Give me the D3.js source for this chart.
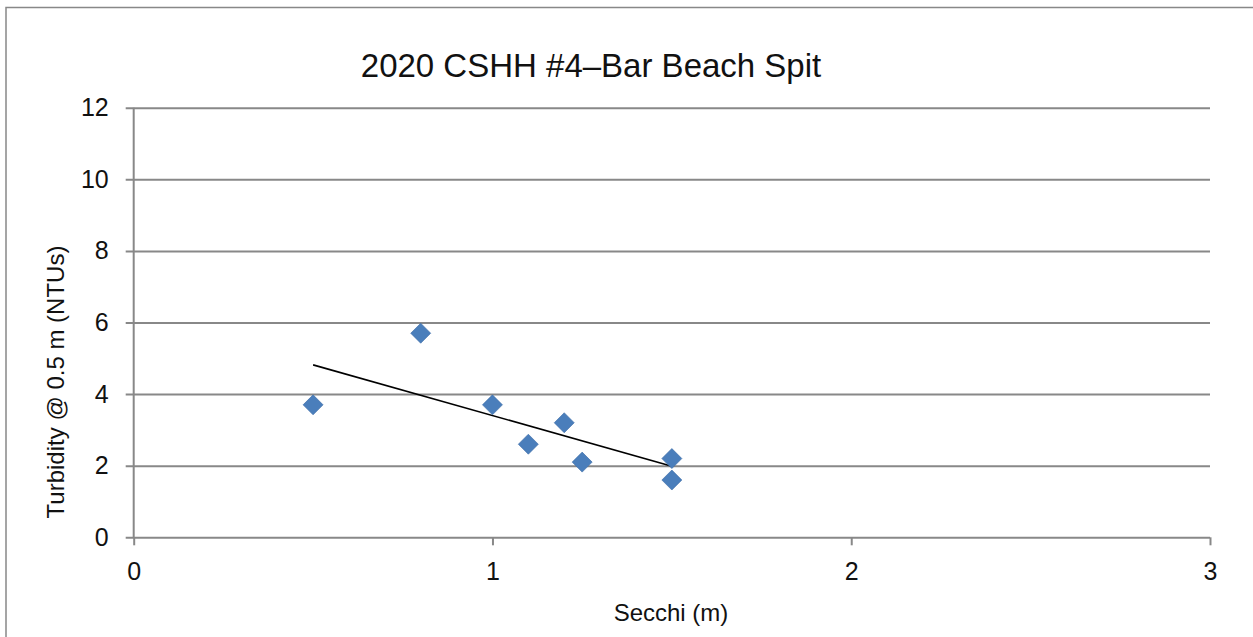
<!DOCTYPE html>
<html>
<head>
<meta charset="utf-8">
<script src="https://cdn.jsdelivr.net/npm/d3@7"></script>
<style>
  html, body { margin: 0; padding: 0; background: white; }
  svg { display: block; font-family: "Liberation Sans", Arial, sans-serif; }
</style>
</head>
<body>
<svg id="mainSvg" width="1253" height="637"></svg>
<script>
// data
var chartTitle = "2020 CSHH #4\u2013Bar Beach Spit";
var xTitle = "Secchi (m)";
var yTitle = "Turbidity @ 0.5 m (NTUs)";
var secchi = [0.5, 0.8, 1.0, 1.1, 1.2, 1.25, 1.5, 1.5];
var turbidity = [3.7, 5.7, 3.7, 2.6, 3.2, 2.1, 2.2, 1.6];
var xTicks = [0, 1, 2, 3];
var yTicks = [0, 2, 4, 6, 8, 10, 12];

var gridColor = "#888888";
var pointColor = "#4a7ebb";
var pointStroke = "#3d6ea8";

function drawChart()
{
    const svg = d3.select("#mainSvg");
    const margin = {left: 133.7, right: 1210, top: 107.7, bottom: 537.3};

    const xScale = d3.scaleLinear().domain([0, 3]).range([margin.left, margin.right]);
    const yScale = d3.scaleLinear().domain([0, 12]).range([margin.bottom, margin.top]);

    // outer chart border (runs off the right and bottom edges)
    svg.append("rect")
        .attr("x", 6).attr("y", 7.5)
        .attr("width", 1300).attr("height", 700)
        .attr("fill", "none")
        .attr("stroke", gridColor)
        .attr("stroke-width", 1.5);

    // horizontal gridlines + y tick labels
    const yAxisGroup = svg.append("g")
        .attr("transform", `translate(${margin.left - 8}, 0)`)
        .call(d3.axisLeft(yScale).tickValues(yTicks)
            .tickSize(-(margin.right - margin.left + 8))
            .tickPadding(17));
    yAxisGroup.select(".domain").remove();
    yAxisGroup.selectAll(".tick line").attr("stroke", gridColor).attr("stroke-width", 2);
    yAxisGroup.selectAll(".tick text")
        .attr("font-size", "25px").attr("fill", "#111")
        .attr("font-family", "Liberation Sans, Arial, sans-serif");

    // x axis ticks + labels
    const xAxisGroup = svg.append("g")
        .attr("transform", `translate(0, ${margin.bottom})`)
        .call(d3.axisBottom(xScale).tickValues(xTicks)
            .tickSize(8).tickPadding(17).tickFormat(d3.format("d")));
    xAxisGroup.select(".domain").remove();
    xAxisGroup.selectAll(".tick line").attr("stroke", gridColor).attr("stroke-width", 2);
    xAxisGroup.selectAll(".tick text")
        .attr("font-size", "25px").attr("fill", "#111")
        .attr("font-family", "Liberation Sans, Arial, sans-serif");

    // y axis line
    svg.append("line")
        .attr("x1", margin.left).attr("x2", margin.left)
        .attr("y1", yScale(12)).attr("y2", yScale(0))
        .attr("stroke", gridColor).attr("stroke-width", 2);

    // linear trendline (least squares)
    const mx = d3.mean(secchi), my = d3.mean(turbidity);
    let sxy = 0, sxx = 0;
    for (let i = 0; i < secchi.length; i++) {
        sxy += (secchi[i] - mx) * (turbidity[i] - my);
        sxx += (secchi[i] - mx) * (secchi[i] - mx);
    }
    const slope = sxy / sxx;
    const intercept = my - slope * mx;
    const x0 = d3.min(secchi), x1 = d3.max(secchi);
    svg.append("line")
        .attr("x1", xScale(x0)).attr("y1", yScale(intercept + slope * x0))
        .attr("x2", xScale(x1)).attr("y2", yScale(intercept + slope * x1))
        .attr("stroke", "black").attr("stroke-width", 1.6);

    // diamond markers
    const diamond = d3.symbol().type(d3.symbolSquare).size(200);
    svg.append("g").selectAll("path")
        .data(secchi.map((d, i) => [d, turbidity[i]]))
        .join("path")
        .attr("d", diamond)
        .attr("transform", d => `translate(${xScale(d[0])}, ${yScale(d[1])}) rotate(45)`)
        .attr("fill", pointColor)
        .attr("stroke", pointStroke)
        .attr("stroke-width", 0.6);

    // titles
    svg.append("text")
        .text(chartTitle)
        .attr("x", 591).attr("y", 77)
        .attr("text-anchor", "middle")
        .attr("font-size", "33px").attr("fill", "#111");
    svg.append("text")
        .text(xTitle)
        .attr("x", 671).attr("y", 621)
        .attr("text-anchor", "middle")
        .attr("font-size", "24px").attr("fill", "#111");
    svg.append("text")
        .text(yTitle)
        .attr("transform", "translate(64, 382) rotate(-90)")
        .attr("text-anchor", "middle")
        .attr("font-size", "24px").attr("fill", "#111");
}

drawChart();
</script>
</body>
</html>
